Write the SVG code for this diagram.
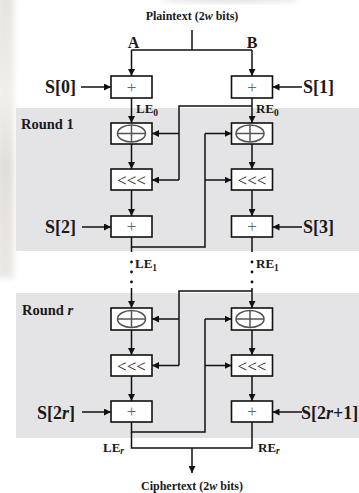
<svg xmlns="http://www.w3.org/2000/svg" width="359" height="493" viewBox="0 0 359 493">
  <style>
    .band { fill: #e4e4e6; }
    .box { fill: #ffffff; stroke: #111; stroke-width: 1.6; }
    .wire { fill: none; stroke: #111; stroke-width: 1.5; }
    .arr { fill: none; stroke: #111; stroke-width: 1.5; marker-end: url(#head); }
    .xor { fill: none; stroke: #555; stroke-width: 1.5; }
    .t { font-family: "Liberation Serif", "Times New Roman", serif; font-weight: bold; fill: #1a1a1a; }
    .key { font-size: 18px; }
    .side { font-size: 16px; }
    .round { font-size: 14.5px; }
    .io { font-size: 12px; }
    .lab { font-size: 13px; }
    .sub { font-size: 9.5px; }
    .plus { font-family: "Liberation Serif", serif; font-size: 17px; fill: #666; text-anchor: middle; }
    .rot { font-family: "Liberation Serif", serif; font-size: 17px; fill: #222; text-anchor: middle; }
    .dot { fill: #111; }
  </style>
  <defs>
    <marker id="head" viewBox="0 0 10 10" refX="10" refY="5" markerWidth="7" markerHeight="7" markerUnits="userSpaceOnUse" orient="auto">
      <path d="M0,0 L10,5 L0,10 z" fill="#111"/>
    </marker>
    <filter id="soft" x="-50%" y="-50%" width="200%" height="200%">
      <feGaussianBlur stdDeviation="3"/>
    </filter>
    <linearGradient id="edge" x1="0" y1="0" x2="0" y2="1">
      <stop offset="0" stop-color="#e6e3de"/>
      <stop offset="0.35" stop-color="#f1efeb"/>
      <stop offset="0.6" stop-color="#e2dfda"/>
      <stop offset="1" stop-color="#ebe8e4"/>
    </linearGradient>
  </defs>

  <rect width="359" height="493" fill="#ffffff"/>
  <!-- soft margin at the left and top edges -->
  <rect x="-4" y="-4" width="18" height="282" fill="url(#edge)" filter="url(#soft)"/>
  <ellipse cx="230" cy="-1" rx="70" ry="3" fill="#d8d8d8" filter="url(#soft)"/>

  <!-- round bands -->
  <g id="round-1-band">
    <rect class="band" x="16" y="108" width="343" height="143"/>
    <text class="t round" x="21" y="129">Round 1</text>
  </g>
  <g id="round-r-band">
    <rect class="band" x="16" y="293" width="343" height="145"/>
    <text class="t round" x="22" y="315">Round <tspan font-style="italic">r</tspan></text>
  </g>

  <!-- connectors -->
  <g id="connectors">
    <!-- plaintext split -->
    <path class="wire" d="M192,30 V50 M131.5,50 H252"/>
    <path class="arr" d="M131.5,50 V76"/>
    <path class="arr" d="M252,50 V76"/>
    <!-- initial subkeys -->
    <path class="arr" d="M81,87 H111"/>
    <path class="arr" d="M302,87 H272.5"/>
    <!-- into round 1 -->
    <path class="arr" d="M131.5,98 V123"/>
    <path class="arr" d="M252,98 V123"/>
    <!-- round 1: B feeds left half -->
    <path class="wire" d="M252,106 H179 V180"/>
    <path class="arr" d="M179,133.5 H152"/>
    <path class="arr" d="M179,180 H152"/>
    <!-- round 1 columns -->
    <path class="arr" d="M131.5,144 V169"/>
    <path class="arr" d="M252,144 V169"/>
    <path class="arr" d="M131.5,190 V216"/>
    <path class="arr" d="M252,190 V216"/>
    <path class="arr" d="M82,227 H111"/>
    <path class="arr" d="M302,227 H272.5"/>
    <!-- round 1: new A feeds right half -->
    <path class="wire" d="M131.5,237 V247 H205 V133.5"/>
    <path class="arr" d="M205,133.5 H231.5"/>
    <path class="arr" d="M205,180 H231.5"/>
    <path class="wire" d="M131.5,247 V252 M252,237 V252"/>
    <!-- elided rounds -->
    <circle class="dot" cx="131.5" cy="262" r="1.4"/>
    <circle class="dot" cx="131.5" cy="272" r="1.4"/>
    <circle class="dot" cx="131.5" cy="282" r="1.4"/>
    <circle class="dot" cx="252" cy="262" r="1.4"/>
    <circle class="dot" cx="252" cy="272" r="1.4"/>
    <circle class="dot" cx="252" cy="282" r="1.4"/>
    <path class="arr" d="M131.5,288 V308"/>
    <path class="arr" d="M252,288 V308"/>
    <!-- round r: B feeds left half -->
    <path class="wire" d="M252,291 H179 V365.5"/>
    <path class="arr" d="M179,319 H152"/>
    <path class="arr" d="M179,365.5 H152"/>
    <!-- round r columns -->
    <path class="arr" d="M131.5,330 V355"/>
    <path class="arr" d="M252,330 V355"/>
    <path class="arr" d="M131.5,376 V401"/>
    <path class="arr" d="M252,376 V401"/>
    <path class="arr" d="M82,412 H111"/>
    <path class="arr" d="M302,412 H272.5"/>
    <!-- round r: new A feeds right half -->
    <path class="wire" d="M131.5,422 V432 H205 V319"/>
    <path class="arr" d="M205,319 H231.5"/>
    <path class="arr" d="M205,365.5 H231.5"/>
    <!-- ciphertext join -->
    <path class="wire" d="M131.5,432 V448 H252 V422"/>
    <path class="arr" d="M192,448 V473"/>
  </g>

  <!-- initial additions -->
  <g id="add-s0">
    <rect class="box" x="111" y="76" width="41" height="22"/>
    <text class="plus" x="131.5" y="93">+</text>
  </g>
  <g id="add-s1">
    <rect class="box" x="231.5" y="76" width="41" height="22"/>
    <text class="plus" x="252" y="93">+</text>
  </g>

  <!-- round 1 -->
  <g id="r1-xor-left">
    <rect class="box" x="111" y="123" width="41" height="21"/>
    <ellipse class="xor" cx="131.5" cy="133.5" rx="14" ry="8.5"/>
    <path class="xor" d="M117.5,133.5 H145.5 M131.5,125 V142"/>
  </g>
  <g id="r1-xor-right">
    <rect class="box" x="231.5" y="123" width="41" height="21"/>
    <ellipse class="xor" cx="250" cy="133.5" rx="14" ry="8.5"/>
    <path class="xor" d="M236,133.5 H264 M250,125 V142"/>
  </g>
  <g id="r1-rot-left">
    <rect class="box" x="111" y="169" width="41" height="21"/>
    <text class="rot" x="131.5" y="185.5">&lt;&lt;&lt;</text>
  </g>
  <g id="r1-rot-right">
    <rect class="box" x="231.5" y="169" width="41" height="21"/>
    <text class="rot" x="252" y="185.5">&lt;&lt;&lt;</text>
  </g>
  <g id="r1-add-left">
    <rect class="box" x="111" y="216" width="41" height="21"/>
    <text class="plus" x="131.5" y="232">+</text>
  </g>
  <g id="r1-add-right">
    <rect class="box" x="231.5" y="216" width="41" height="21"/>
    <text class="plus" x="252" y="232">+</text>
  </g>

  <!-- round r -->
  <g id="rr-xor-left">
    <rect class="box" x="111" y="308" width="41" height="22"/>
    <ellipse class="xor" cx="131.5" cy="319" rx="14" ry="8.5"/>
    <path class="xor" d="M117.5,319 H145.5 M131.5,310.5 V327.5"/>
  </g>
  <g id="rr-xor-right">
    <rect class="box" x="231.5" y="308" width="41" height="22"/>
    <ellipse class="xor" cx="250" cy="319" rx="14" ry="8.5"/>
    <path class="xor" d="M236,319 H264 M250,310.5 V327.5"/>
  </g>
  <g id="rr-rot-left">
    <rect class="box" x="111" y="355" width="41" height="21"/>
    <text class="rot" x="131.5" y="371.5">&lt;&lt;&lt;</text>
  </g>
  <g id="rr-rot-right">
    <rect class="box" x="231.5" y="355" width="41" height="21"/>
    <text class="rot" x="252" y="371.5">&lt;&lt;&lt;</text>
  </g>
  <g id="rr-add-left">
    <rect class="box" x="111" y="401" width="41" height="21"/>
    <text class="plus" x="131.5" y="417">+</text>
  </g>
  <g id="rr-add-right">
    <rect class="box" x="231.5" y="401" width="41" height="21"/>
    <text class="plus" x="252" y="417">+</text>
  </g>

  <!-- labels -->
  <g id="labels">
    <text class="t io" x="192" y="20" text-anchor="middle">Plaintext (2<tspan font-style="italic">w</tspan> bits)</text>
    <text class="t side" x="133.5" y="48" text-anchor="middle">A</text>
    <text class="t side" x="252" y="48" text-anchor="middle">B</text>
    <text class="t key" x="45" y="93">S[0]</text>
    <text class="t key" x="303" y="93">S[1]</text>
    <text class="t key" x="45" y="233">S[2]</text>
    <text class="t key" x="303" y="233">S[3]</text>
    <text class="t key" x="37" y="419">S[2<tspan font-style="italic">r</tspan>]</text>
    <text class="t key" x="301" y="419">S[2<tspan font-style="italic">r</tspan>+1]</text>
    <text class="t lab" x="136" y="113">LE<tspan class="sub" dy="3">0</tspan></text>
    <text class="t lab" x="256" y="113">RE<tspan class="sub" dy="3">0</tspan></text>
    <text class="t lab" x="135" y="268">LE<tspan class="sub" dy="3">1</tspan></text>
    <text class="t lab" x="256" y="268">RE<tspan class="sub" dy="3">1</tspan></text>
    <text class="t lab" x="103" y="452">LE<tspan class="sub" dy="2" font-style="italic">r</tspan></text>
    <text class="t lab" x="258" y="452">RE<tspan class="sub" dy="2" font-style="italic">r</tspan></text>
    <text class="t io" x="192" y="490" text-anchor="middle">Ciphertext (2<tspan font-style="italic">w</tspan> bits)</text>
  </g>
</svg>
